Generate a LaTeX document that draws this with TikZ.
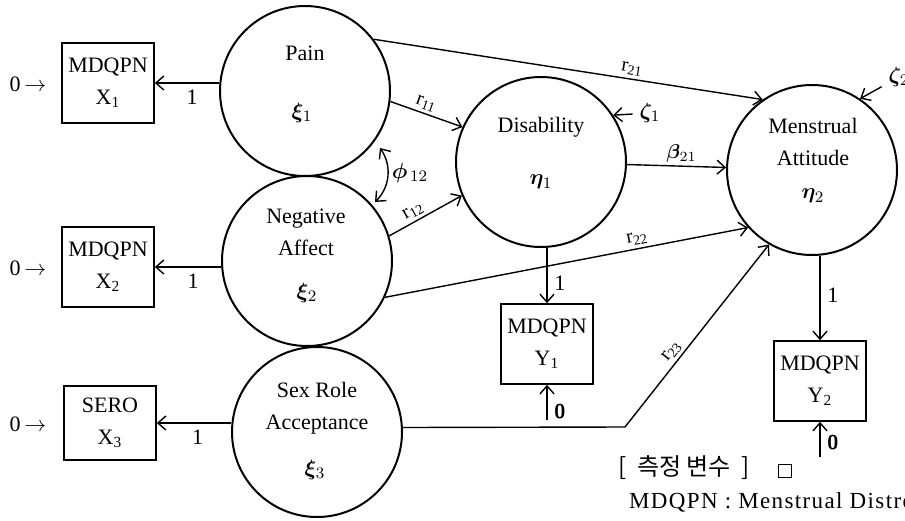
\documentclass[tikz,border=0pt]{standalone}
\usepackage{fontspec}
\setmainfont{Liberation Serif}
\newfontfamily\kofont{Noto Sans CJK KR}
\newfontfamily\legendfont[LetterSpace=6]{Liberation Serif}
\usepackage{bm}
\usetikzlibrary{arrows.meta}

\begin{document}
\begin{tikzpicture}[x=0.5pt, y=-0.5pt,
  font=\fontsize{11}{16}\selectfont,
  latent/.style={draw, circle, line width=1pt, minimum size=85pt, inner sep=0pt},
  observed/.style={draw, line width=0.8pt, minimum width=46pt, minimum height=40pt, align=center, inner sep=1pt},
  arr/.style={line width=0.7pt, -{Straight Barb[length=4pt,width=7pt]}},
  dblarr/.style={line width=0.7pt, {Straight Barb[length=4pt,width=7pt]}-{Straight Barb[length=4pt,width=7pt]}},
  coef/.style={font=\fontsize{10}{12}\selectfont, inner sep=1.5pt}]

\useasboundingbox (0,0) rectangle (905,520);
\clip (0,0) rectangle (905,520);

% latent variables
\node[latent] (pain) at (305,91) {};
\node (painname) at (305,53) {Pain};
\node (xi1) at (302,113) {$\bm{\xi}_1$};

\node[latent] (na) at (307,261) {};
\node[align=center] (naname) at (306,232) {Negative\\Affect};
\node (xi2) at (307,293) {$\bm{\xi}_2$};

\node[latent] (sr) at (317,432) {};
\node[align=center] (srname) at (317,408) {Sex Role\\Acceptance};
\node (xi3) at (315,470) {$\bm{\xi}_3$};

\node[latent] (dis) at (541,162) {};
\node (disname) at (541,127) {Disability};
\node (eta1) at (541,182) {$\bm{\eta}_1$};

\node[latent] (ma) at (812,170) {};
\node[align=center] (maname) at (813,142) {Menstrual\\Attitude};
\node (eta2) at (813,196) {$\bm{\eta}_2$};

% measured variables
\node[observed] (x1) at (108,83) {MDQPN\\X\textsubscript{1}};
\node[observed] (x2) at (108,267) {MDQPN\\X\textsubscript{2}};
\node[observed, minimum height=37pt] (x3) at (110,423) {SERO\\X\textsubscript{3}};
\node[observed] (y1) at (547,344) {MDQPN\\Y\textsubscript{1}};
\node[observed] (y2) at (820,381) {MDQPN\\Y\textsubscript{2}};

\node (x1zero) at (28,84) {0\,$\rightarrow$};
\node (x2zero) at (28,268) {0\,$\rightarrow$};
\node (x3zero) at (28,424) {0\,$\rightarrow$};

% loadings
\draw[arr] (x1.east -| pain.west) -- node[below, pos=0.42] {1} (x1.east);
\draw[arr] (x2.east -| na.west) -- node[below, pos=0.42] {1} (x2.east);
\draw[arr] (x3.east -| sr.west) -- node[below, pos=0.45] {1} (x3.east);
\draw[arr] (dis.south -| y1.north) -- node[right, pos=0.64] {1} (y1.north);
\draw[arr] (ma.south -| y2.north) -- node[right, pos=0.47] {1} (y2.north);

\coordinate (y1zero) at (547,420);
\coordinate (y2zero) at (820,457);
\draw[arr] (y1zero) -- node[right, pos=0.25, font=\sffamily\bfseries] {0} (y1.south);
\draw[arr] (y2zero) -- node[right, pos=0.4, font=\sffamily\bfseries] {0} (y2.south);

% structural paths
\draw[arr] (pain.37) -- node[coef, above, sloped, pos=0.66] {r\textsubscript{21}} (ma.125);
\draw[arr] (pain.-7) -- node[coef, above, sloped, pos=0.45] {r\textsubscript{11}} (dis.156);
\draw[arr] (na.17) -- node[coef, above, sloped, pos=0.4] {r\textsubscript{12}} (dis.203);
\draw[arr] (na.-25) -- node[coef, above, sloped, pos=0.7] {r\textsubscript{22}} (ma.222);
\coordinate (bend) at (625,427);
\draw[arr] (sr.3) -- (bend) -- node[coef, above, sloped, pos=0.38] {r\textsubscript{23}} (ma.240);
\draw[arr] (dis) -- node[coef, above, pos=0.55] {$\bm{\beta}_{21}$} (ma);

% disturbances
\node (zeta1) at (650,113) {$\bm{\zeta}_1$};
\draw[arr] (zeta1) -- (dis.33);
\node (zeta2) at (899,77) {$\bm{\zeta}_2$};
\draw[arr] (zeta2) -- (ma.56);

% correlation
\coordinate (phitop) at (380,148);
\coordinate (phibot) at (375,202);
\draw[dblarr] (phitop) to[bend left=40] (phibot);
\node (phi) at (410,173) {$\bm{\phi}_{\,12}$};

% legend
\node[font=\kofont\fontsize{12}{14}\selectfont] (legend) at (684,468) {[\ \ 측정\ 변수\ \ ]};
\node[draw, line width=0.7pt, minimum size=6.5pt, inner sep=0pt] (sqmark) at (785,471) {};
\node[anchor=west, font=\legendfont\fontsize{11.5}{14}\selectfont] (mdqpn) at (622,502) {MDQPN : Menstrual Distre};
\end{tikzpicture}
\end{document}
